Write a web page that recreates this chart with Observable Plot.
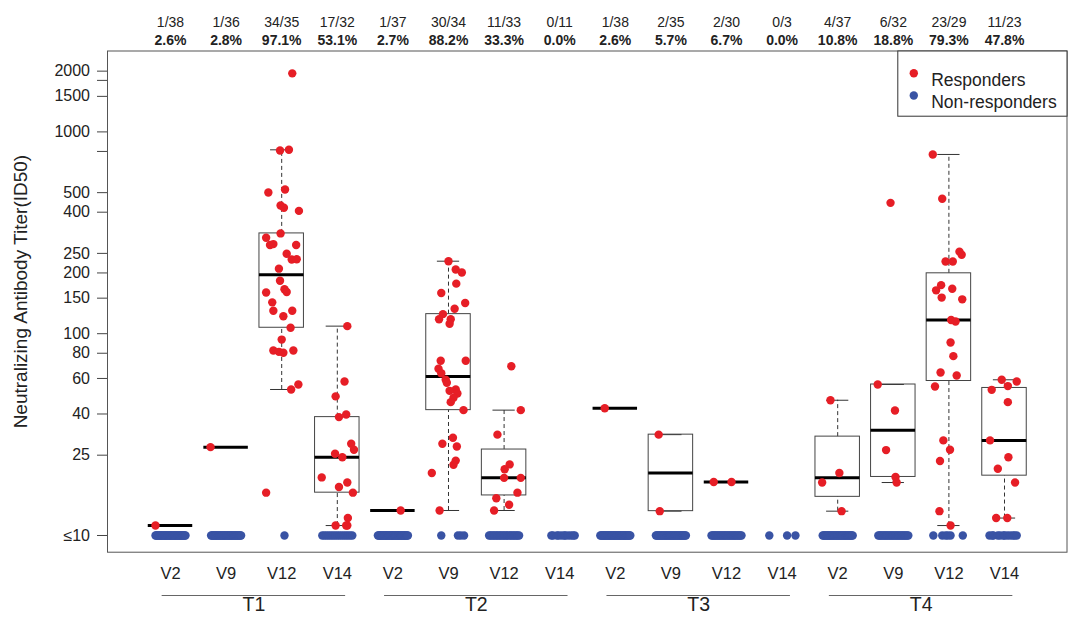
<!DOCTYPE html>
<html><head><meta charset="utf-8">
<script src="https://cdn.jsdelivr.net/npm/d3@7"></script>
<script src="https://cdn.jsdelivr.net/npm/@observablehq/plot@0.6"></script>
<style>html,body{margin:0;padding:0;background:#fff;}</style>
</head><body><div id="chart"></div>
<script>
const treatments = ["T1", "T2", "T3", "T4"];
const visits = ["V2", "V9", "V12", "V14"];
const totals = [38, 36, 35, 32, 37, 34, 33, 11, 38, 35, 30, 3, 37, 32, 29, 23];
const responderCounts = [1, 1, 34, 17, 1, 30, 11, 0, 1, 2, 2, 0, 4, 6, 23, 11];

// responder titers (ID50) per group, order T1V2, T1V9, ... T4V14
const titers = [
  [11.2],
  [27.4],
  [1950, 809, 815, 501, 518, 432, 421, 406, 314, 299, 275, 278, 275, 249, 233, 234, 210, 183, 160, 166, 161, 143, 130, 130, 122, 107, 93.5, 82.5, 81.3, 80.4, 82.5, 56, 52.9, 16.3],
  [109, 58, 48.9, 38.6, 39.8, 28.5, 26.6, 25.4, 24.4, 19.4, 17.4, 18.3, 16.3, 12.2, 11.2, 11.2, 11.2],
  [13.3],
  [228.7, 208, 201, 177, 159, 142, 133, 125, 118, 118, 112, 73.4, 73.4, 67, 63.7, 59.1, 57.1, 52.9, 52.1, 50.5, 48.1, 45.8, 41.8, 30.5, 28.5, 27.6, 23.5, 22.4, 20.4, 13.3],
  [69, 41.8, 31.6, 22.5, 21.3, 19.3, 19.3, 16.3, 15.3, 14.2, 13.3],
  [],
  [42.7],
  [31.6, 13.2],
  [18.4, 18.4],
  [],
  [46.8, 20.4, 18.3, 13.2],
  [445, 56, 41.6, 26.5, 19.5, 18.3],
  [773, 466, 255, 246, 228, 228, 174, 164, 167, 151, 148, 117, 115, 90.4, 77.4, 64.2, 62.1, 54.7, 29.6, 26.6, 23.4, 13.2, 11.2],
  [59.1, 58, 52.7, 55, 45.8, 29.6, 24.4, 21.4, 18.3, 12.2, 12.2]
];
// horizontal jitter of responder points (in category units), same order
const jitter = [
  [-0.27],
  [-0.28],
  [0.19, -0.03, 0.13, -0.24, 0.06, -0.02, 0.04, 0.31, -0.02, -0.28, -0.21, -0.15, 0.26, 0.09, 0.18, 0.27, -0.05, -0.03, -0.28, 0.05, 0.09, -0.17, -0.15, 0.19, 0.03, 0.16, 0, -0.15, -0.05, 0.03, 0.21, 0.3, 0.17, -0.28],
  [0.18, 0.13, -0.03, 0.03, 0.16, 0.25, 0.3, -0.04, 0.09, -0.28, 0.03, 0.18, 0.28, 0.19, 0.18, -0.03, 0.16],
  [0.14],
  [0, 0.13, 0.24, 0.14, -0.13, 0.3, 0.11, -0.1, -0.17, 0.04, 0.02, -0.14, 0.31, -0.18, -0.13, -0.05, -0.03, 0.13, 0.02, 0.16, 0.09, 0.04, 0.27, 0.08, -0.11, 0.15, 0.13, 0.09, -0.3, -0.16],
  [0.13, 0.3, -0.12, 0.1, 0.01, 0, 0.3, 0.24, -0.14, 0.09, -0.18],
  [],
  [-0.19],
  [-0.22, -0.2],
  [-0.23, 0.09],
  [],
  [-0.13, 0.03, -0.28, 0.07],
  [-0.05, -0.28, 0.03, -0.13, 0.04, 0.06],
  [-0.29, -0.12, 0.19, 0.23, -0.06, 0.07, -0.14, -0.23, 0.06, -0.13, 0.24, 0.04, 0.12, 0.03, 0.08, -0.15, 0.14, -0.25, -0.1, 0.02, -0.16, -0.17, 0.03],
  [-0.05, 0.22, -0.23, 0.06, 0.06, -0.26, 0.07, -0.12, 0.19, -0.15, 0.05]
];
// jitter of non-responders (all at <=10) where they are few enough to tell apart
const nonResponderJitter = {
  2: [0.05],
  5: [-0.13, 0.17, 0.22, 0.28],
  7: [-0.15, -0.12, -0.05, -0.02, 0.03, 0.08, 0.1, 0.15, 0.2, 0.24, 0.27],
  11: [-0.23, 0.09, 0.24],
  14: [-0.28, -0.12, -0.06, -0.02, 0.03, 0.25],
  15: [-0.27, -0.22, -0.2, -0.12, -0.08, -0.02, 0, 0.05, 0.1, 0.15, 0.18, 0.22]
};
const floorValue = 10;
const yTicks = [10, 25, 40, 60, 80, 100, 150, 200, 250, 400, 500, 800, 1000, 1500, 1800, 2000];
const unlabeledTicks = [800, 1800];

const RED = "#e61e26", BLUE = "#3953a4";
const yDomain = [8.264, 2517];

const groups = [];
treatments.forEach((t, ti) => visits.forEach((v, vi) => {
  const i = ti * 4 + vi;
  groups.push({i, treatment: t, visit: v, pos: i + 1, n: totals[i], r: responderCounts[i]});
}));

function boxStats(vals) {
  const L = vals.map(Math.log10).sort(d3.ascending);
  const n = L.length;
  const n4 = Math.floor((n + 3) / 2) / 2;
  const d = [1, n4, (n + 1) / 2, n + 1 - n4, n];
  const f = d.map(k => 0.5 * (L[Math.floor(k) - 1] + L[Math.ceil(k) - 1]));
  const iqr = f[3] - f[1];
  const lo = d3.min(L.filter(x => x >= f[1] - 1.5 * iqr));
  const hi = d3.max(L.filter(x => x <= f[3] + 1.5 * iqr));
  return {q1: 10 ** f[1], med: 10 ** f[2], q3: 10 ** f[3], lo: 10 ** lo, hi: 10 ** hi};
}

const boxes = groups.filter(g => titers[g.i].length > 0)
  .map(g => ({...g, ...boxStats(titers[g.i])}));

const redPts = groups.flatMap(g => titers[g.i].map((y, k) => ({x: g.pos + jitter[g.i][k], y})));
const bluePts = groups.flatMap(g => {
  const m = g.n - g.r;
  const offs = nonResponderJitter[g.i] || d3.range(m).map(k => -0.27 + 0.54 * k / Math.max(1, m - 1));
  return offs.map(o => ({x: g.pos + o, y: floorValue}));
});

const tGroups = treatments.map((t, ti) => ({name: t, start: ti * 4 + 1, end: ti * 4 + 4}));
const frameW = 1071 - 107 - 4.5;
const tickLabel = d => d === 10 ? "≤10" : unlabeledTicks.includes(d) ? "" : String(d);

const plot = Plot.plot({
  width: 1071,
  height: 621,
  marginLeft: 107,
  marginRight: 4.5,
  marginTop: 50.5,
  marginBottom: 69.3,
  style: {fontFamily: "'Liberation Sans', Arial, Helvetica, sans-serif", fontSize: "15px", background: "#fff", color: "#222"},
  x: {type: "linear", domain: [-0.133, 17.124], axis: null},
  y: {type: "log", domain: yDomain, axis: null},
  marks: [
    // y ticks and labels
    Plot.ruleY(yTicks, {y: d => d, insetLeft: -10, insetRight: frameW, stroke: "#444"}),
    Plot.text(yTicks, {y: d => d, text: tickLabel, frameAnchor: "left", textAnchor: "end", dx: -17.5, fontSize: 16, fill: "#222"}),
    // whiskers
    Plot.ruleX(boxes.filter(b => b.hi > b.q3), {x: "pos", y1: "q3", y2: "hi", stroke: "#333", strokeDasharray: "4,3"}),
    Plot.ruleX(boxes.filter(b => b.lo < b.q1), {x: "pos", y1: "lo", y2: "q1", stroke: "#333", strokeDasharray: "4,3"}),
    Plot.ruleY(boxes, {y: "hi", x1: d => d.pos - 0.2, x2: d => d.pos + 0.2, stroke: "#333"}),
    Plot.ruleY(boxes, {y: "lo", x1: d => d.pos - 0.2, x2: d => d.pos + 0.2, stroke: "#333"}),
    Plot.rect(boxes, {x1: d => d.pos - 0.4, x2: d => d.pos + 0.4, y1: "q1", y2: "q3", stroke: "#444", fill: "none"}),
    Plot.ruleY(boxes, {y: "med", x1: d => d.pos - 0.4, x2: d => d.pos + 0.4, stroke: "#000", strokeWidth: 3}),
    // points
    Plot.dot(bluePts, {x: "x", y: "y", r: 4.2, fill: BLUE}),
    Plot.dot(redPts, {x: "x", y: "y", r: 4.2, fill: RED}),
    Plot.frame({stroke: "#555"}),
    // top labels
    Plot.text(groups, {x: "pos", text: d => `${d.r}/${d.n}`, frameAnchor: "top", dy: -33.5, fontSize: 14}),
    Plot.text(groups, {x: "pos", text: d => (d.r / d.n * 100).toFixed(1) + "%", frameAnchor: "top", dy: -16, fontSize: 14, fontWeight: "bold"}),
    // bottom labels
    Plot.text(groups, {x: "pos", text: "visit", frameAnchor: "bottom", dy: 26.3, fontSize: 16.5}),
    Plot.ruleY(tGroups, {y: () => yDomain[0], x1: d => d.start - 0.15, x2: d => d.end + 0.15, dy: 43.3, stroke: "#666"}),
    Plot.text(tGroups, {x: d => (d.start + d.end) / 2, text: "name", frameAnchor: "bottom", dy: 58.8, fontSize: 19.5}),
    // y title
    Plot.text(["Neutralizing Antibody Titer(ID50)"], {text: d => d, frameAnchor: "left", textAnchor: "middle", rotate: -90, dx: -86.5, dy: -10, fontSize: 19}),
    // legend
    Plot.frame({insetLeft: 790.3, insetBottom: 436, stroke: "#333", fill: "#fff"}),
    Plot.dot(["Responders"], {frameAnchor: "top-right", dx: -153.2, dy: 22.2, r: 4.2, fill: RED}),
    Plot.dot(["Non-responders"], {frameAnchor: "top-right", dx: -153.2, dy: 44.5, r: 4.2, fill: BLUE}),
    Plot.text(["Responders"], {text: d => d, frameAnchor: "top-right", textAnchor: "start", dx: -135.8, dy: 22.2, fontSize: 17.5}),
    Plot.text(["Non-responders"], {text: d => d, frameAnchor: "top-right", textAnchor: "start", dx: -135.8, dy: 44.5, fontSize: 17.5})
  ]
});
document.getElementById("chart").appendChild(plot);
</script>
</body></html>
